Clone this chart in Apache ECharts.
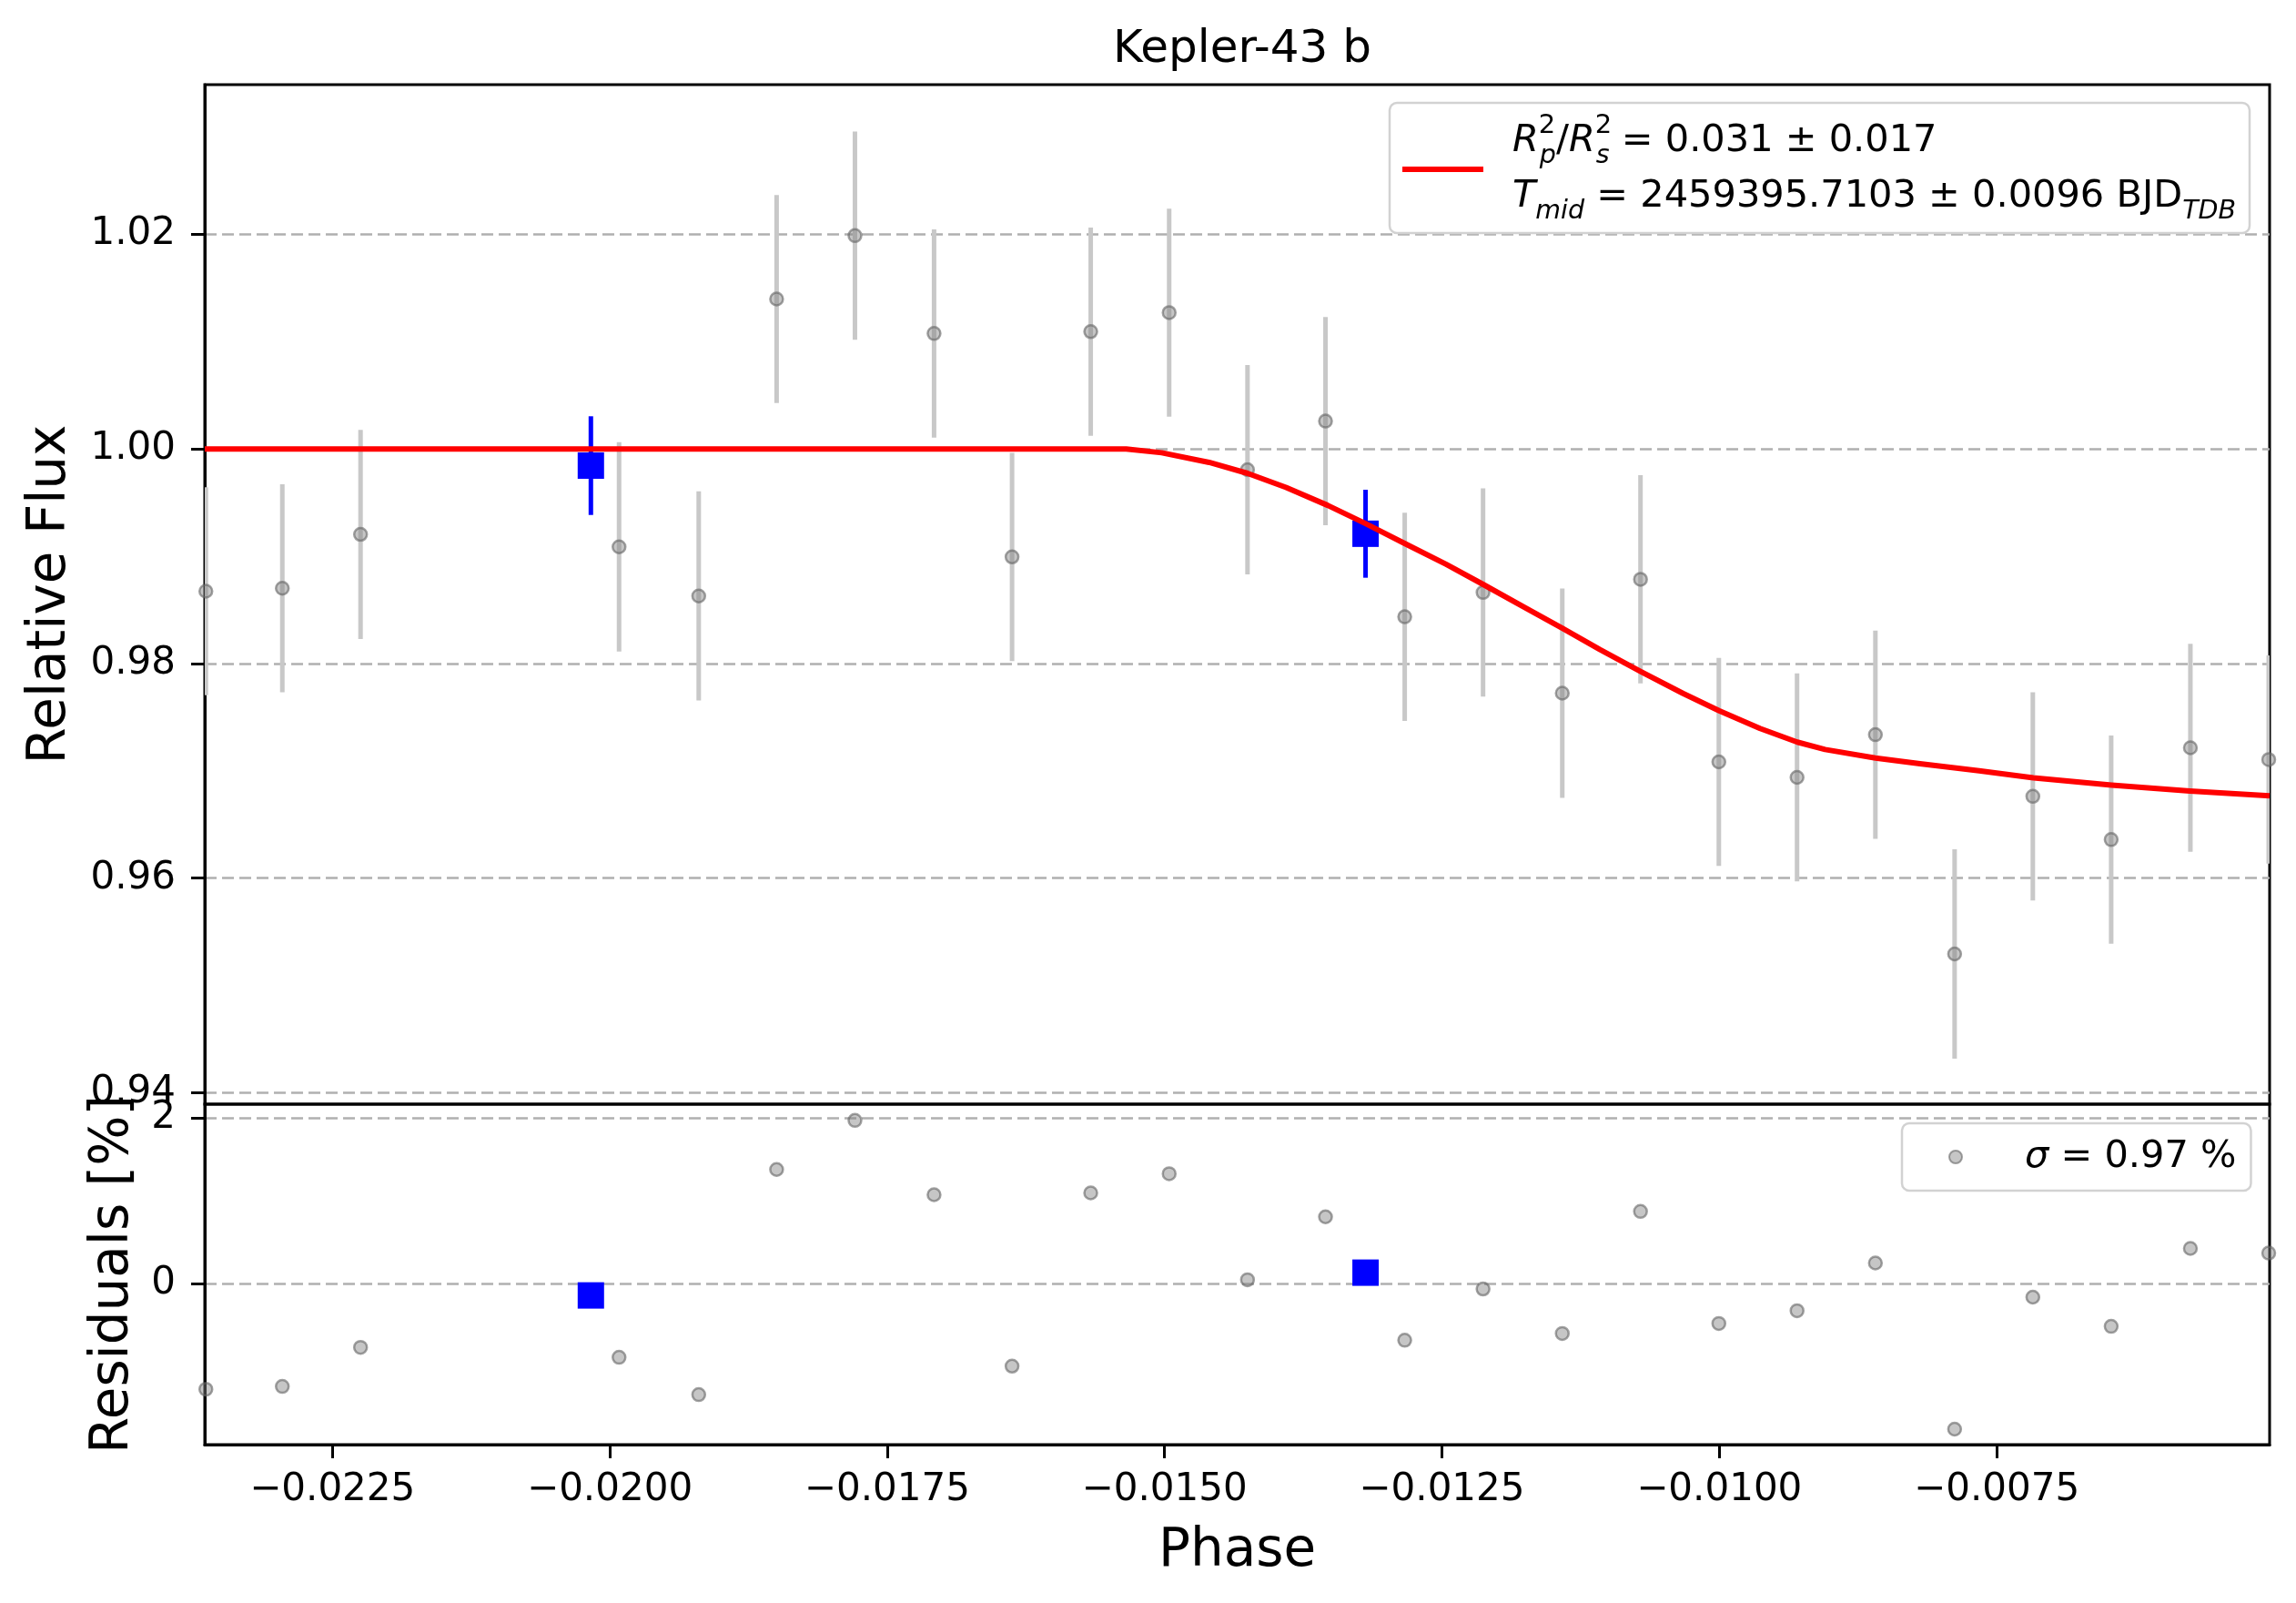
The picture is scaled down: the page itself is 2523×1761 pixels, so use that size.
<!DOCTYPE html>
<html><head><meta charset="utf-8">
<script src="https://cdn.jsdelivr.net/npm/echarts@6/dist/echarts.min.js"></script>
<style>html,body{margin:0;padding:0;background:#fff}#c{width:2523px;height:1761px}</style>
</head><body><div id="c"></div>
<script>
// ---------- data ----------
const titleText = 'Kepler-43 b';
const phase = [-0.023640, -0.022951, -0.022246, -0.019916, -0.019198, -0.018496, -0.017790, -0.017077,
  -0.016374, -0.015665, -0.014958, -0.014252, -0.013549, -0.012835, -0.012129, -0.011415, -0.010710,
  -0.010004, -0.009299, -0.008593, -0.007879, -0.007174, -0.006468, -0.005754, -0.005048];
const flux = [0.98674, 0.98702, 0.99204, 0.99088, 0.98630, 1.01398, 1.01989, 1.01077,
  0.98994, 1.01094, 1.01271, 0.99807, 1.00260, 0.98436, 0.98663, 0.97724, 0.98785,
  0.97083, 0.96939, 0.97337, 0.95293, 0.96762, 0.96359, 0.97215, 0.97105];
const fluxErr = [0.0097, 0.0097, 0.00975, 0.00975, 0.00975, 0.0097, 0.0097, 0.0097,
  0.0097, 0.0097, 0.0097, 0.00975, 0.0097, 0.0097, 0.0097, 0.00975, 0.0097,
  0.0097, 0.0097, 0.0097, 0.00975, 0.0097, 0.0097, 0.0097, 0.0097];
const residual = [-1.284, -1.250, -0.776, -0.897, -1.349, 1.379, 1.974, 1.073,
  -1.004, 1.095, 1.328, 0.043, 0.806, -0.690, -0.069, -0.608, 0.871,
  -0.487, -0.332, 0.246, -1.767, -0.168, -0.522, 0.422, 0.366];
const binPhase = [-0.020170, -0.013188];
const binFlux = [0.99845, 0.99210];
const binErr = [0.0046, 0.0041];
const binResidual = [-0.147, 0.129];
const modelPhase = [-0.02365, -0.015345, -0.015025, -0.014598, -0.014251, -0.013904, -0.013530,
  -0.013189, -0.012836, -0.012462, -0.012132, -0.011768, -0.011411, -0.011075, -0.010706,
  -0.010327, -0.010002, -0.009633, -0.009297, -0.009046, -0.008592, -0.008191, -0.007658,
  -0.007169, -0.006464, -0.005759, -0.005040];
const modelFlux = [1.0, 1.0, 0.99965, 0.99875, 0.99773, 0.99641, 0.99475,
  0.99305, 0.99120, 0.98925, 0.98740, 0.98530, 0.98328, 0.98130, 0.97925,
  0.97722, 0.97560, 0.97395, 0.97268, 0.97199, 0.97120, 0.97066, 0.97000,
  0.96934, 0.96867, 0.96812, 0.96768];
const xTicks = [-0.0225, -0.0200, -0.0175, -0.0150, -0.0125, -0.0100, -0.0075];
const fluxTicks = [0.94, 0.96, 0.98, 1.00, 1.02];
const residTicks = [0, 2];
const xRange = [-0.02365, -0.00504];
const fluxRange = [0.93893, 1.03396];
const residRange = [-1.955, 2.171];
const modelName = 'model';
const residName = 'residuals';
const modelLegendLine1 = '{it|R}{sup|2}{sub|p}{n|/}{it|R}{sup|2}{sub|s}{n| = 0.031 ± 0.017}';
const modelLegendLine2 = '{it|T}{sub|mid}{n| = 2459395.7103 ± 0.0096 BJD}{sub|TDB}';
const residLegend = '{it|σ}{n| = 0.97 %}';

// ---------- build ----------
const FONT = 'DejaVu Sans';
const fmtX = v => (v < 0 ? '\u2212' : '') + Math.abs(v).toFixed(4);
const zip2 = (a, b) => a.map((v, i) => [v, b[i]]);
const errData = (x, y, e) => x.map((v, i) => [v, y[i] - e[i], y[i] + e[i]]);
function errRender(color, width) {
  return function (params, api) {
    const p1 = api.coord([api.value(0), api.value(1)]);
    const p2 = api.coord([api.value(0), api.value(2)]);
    return { type: 'line', shape: { x1: p1[0], y1: p1[1], x2: p2[0], y2: p2[1] },
      style: { stroke: color, lineWidth: width } };
  };
}
const grayMarker = { color: 'rgba(128,128,128,0.45)', borderColor: 'rgba(100,100,100,0.6)', borderWidth: 2.5, opacity: 1 };
const blueMarker = { color: '#0000ff', opacity: 1 };
const split = { show: true, lineStyle: { color: '#b0b0b0', width: 2.5, type: [13, 6] } };
const tick = { show: true, length: 15, lineStyle: { color: '#000', width: 3 } };
const labelStyle = { fontFamily: FONT, fontSize: 42, color: '#000' };
const richLegend = {
  it: { fontFamily: FONT, fontSize: 41.5, fontStyle: 'italic', lineHeight: 63, color: '#000', fill: '#000', align: 'left' },
  n: { fontFamily: FONT, fontSize: 41.5, lineHeight: 63, color: '#000', fill: '#000', align: 'left' },
  sup: { fontFamily: FONT, fontSize: 29, lineHeight: 44, verticalAlign: 'top', width: 1, color: '#000', fill: '#000', align: 'left' },
  sub: { fontFamily: FONT, fontSize: 28.5, fontStyle: 'italic', lineHeight: 42, verticalAlign: 'bottom', color: '#000', fill: '#000', align: 'left' }
};

const chart = echarts.init(document.getElementById('c'), null, { renderer: 'canvas' });
chart.setOption({
  animation: false,
  backgroundColor: '#fff',
  title: { text: titleText, left: 1360, textAlign: 'center', top: 25,
    textStyle: { fontFamily: FONT, fontSize: 50, fontWeight: 'normal', color: '#000' } },
  grid: [
    { left: 225, right: 29, top: 93, height: 1120, show: true, borderColor: '#000', borderWidth: 3, backgroundColor: 'transparent' },
    { left: 225, right: 29, top: 1213, height: 374, show: true, borderColor: '#000', borderWidth: 3, backgroundColor: 'transparent' }
  ],
  xAxis: [
    { type: 'value', gridIndex: 0, min: xRange[0], max: xRange[1], axisLine: { show: false },
      axisTick: { show: false }, axisLabel: { show: false }, splitLine: { show: false } },
    { type: 'value', gridIndex: 1, min: xRange[0], max: xRange[1],
      axisLine: { show: true, onZero: false, lineStyle: { color: '#000', width: 3 } },
      axisTick: Object.assign({ customValues: xTicks }, tick),
      axisLabel: Object.assign({ customValues: xTicks, formatter: fmtX, margin: 29 }, labelStyle),
      splitLine: { show: false },
      name: 'Phase', nameLocation: 'middle', nameGap: 89,
      nameTextStyle: { fontFamily: FONT, fontSize: 58, color: '#000' } }
  ],
  yAxis: [
    { type: 'value', gridIndex: 0, min: fluxRange[0], max: fluxRange[1],
      axisLine: { show: true, lineStyle: { color: '#000', width: 3 } },
      axisTick: Object.assign({ customValues: fluxTicks }, tick),
      axisLabel: Object.assign({ customValues: fluxTicks, formatter: v => v.toFixed(2), margin: 32 }, labelStyle),
      splitLine: split,
      name: 'Relative Flux', nameLocation: 'middle', nameGap: 140,
      nameTextStyle: { fontFamily: FONT, fontSize: 58, color: '#000' } },
    { type: 'value', gridIndex: 1, min: residRange[0], max: residRange[1],
      axisLine: { show: true, lineStyle: { color: '#000', width: 3 } },
      axisTick: Object.assign({ customValues: residTicks }, tick),
      axisLabel: Object.assign({ customValues: residTicks, formatter: v => String(Math.round(v)), margin: 32 }, labelStyle),
      splitLine: split,
      name: 'Residuals [%]', nameLocation: 'middle', nameGap: 71,
      nameTextStyle: { fontFamily: FONT, fontSize: 58, color: '#000' } }
  ],
  legend: [
    { data: [residName], left: 2090, top: 1234, orient: 'vertical', selectedMode: false,
      itemWidth: 14, itemHeight: 14, padding: [16, 16, 16, 51],
      borderColor: '#d2d2d2', borderWidth: 2.5, borderRadius: 8, backgroundColor: 'rgba(255,255,255,0.85)',
      formatter: () => residLegend,
      textStyle: { fontFamily: FONT, fontSize: 42, color: '#000', padding: [0, 0, 0, 64], rich: richLegend } }
  ],
  graphic: { elements: [
    { type: 'rect', z: 100, shape: { x: 1527, y: 113, width: 945, height: 143, r: 8 },
      style: { fill: 'rgba(255,255,255,0.85)', stroke: '#d2d2d2', lineWidth: 2.5 } },
    { type: 'line', z: 101, shape: { x1: 1541, y1: 186, x2: 1630, y2: 186 },
      style: { stroke: '#ff0000', lineWidth: 6 } },
    { type: 'text', z: 101, x: 1662, y: 155,
      style: { text: modelLegendLine1, rich: richLegend, align: 'left', verticalAlign: 'middle',
        fontFamily: FONT, fontSize: 41.5, fill: '#000' } },
    { type: 'text', z: 101, x: 1662, y: 216,
      style: { text: modelLegendLine2, rich: richLegend, align: 'left', verticalAlign: 'middle',
        fontFamily: FONT, fontSize: 41.5, fill: '#000' } }
  ] },
  series: [
    { type: 'custom', name: 'fluxErr', xAxisIndex: 0, yAxisIndex: 0, clip: true, z: 1,
      renderItem: errRender('#c8c8c8', 5), encode: { x: 0, y: [1, 2] },
      data: errData(phase, flux, fluxErr) },
    { type: 'scatter', name: 'flux', xAxisIndex: 0, yAxisIndex: 0, clip: true, z: 2,
      symbol: 'circle', symbolSize: 14, itemStyle: grayMarker, data: zip2(phase, flux) },
    { type: 'custom', name: 'binErr', xAxisIndex: 0, yAxisIndex: 0, clip: true, z: 3,
      renderItem: errRender('#0000ff', 5), encode: { x: 0, y: [1, 2] },
      data: errData(binPhase, binFlux, binErr) },
    { type: 'scatter', name: 'bin', xAxisIndex: 0, yAxisIndex: 0, clip: true, z: 4,
      symbol: 'rect', symbolSize: 29, itemStyle: blueMarker, data: zip2(binPhase, binFlux) },
    { type: 'line', name: modelName, xAxisIndex: 0, yAxisIndex: 0, z: 5, symbol: 'none', showSymbol: false,
      smooth: false, lineStyle: { color: '#ff0000', width: 6, join: 'round' }, itemStyle: { color: '#ff0000' },
      data: zip2(modelPhase, modelFlux) },
    { type: 'scatter', name: residName, xAxisIndex: 1, yAxisIndex: 1, clip: true, z: 2,
      symbol: 'circle', symbolSize: 14, itemStyle: grayMarker, data: zip2(phase, residual) },
    { type: 'scatter', name: 'binResid', xAxisIndex: 1, yAxisIndex: 1, clip: true, z: 4,
      symbol: 'rect', symbolSize: 29, itemStyle: blueMarker, data: zip2(binPhase, binResidual) }
  ]
});
</script>
</body></html>
